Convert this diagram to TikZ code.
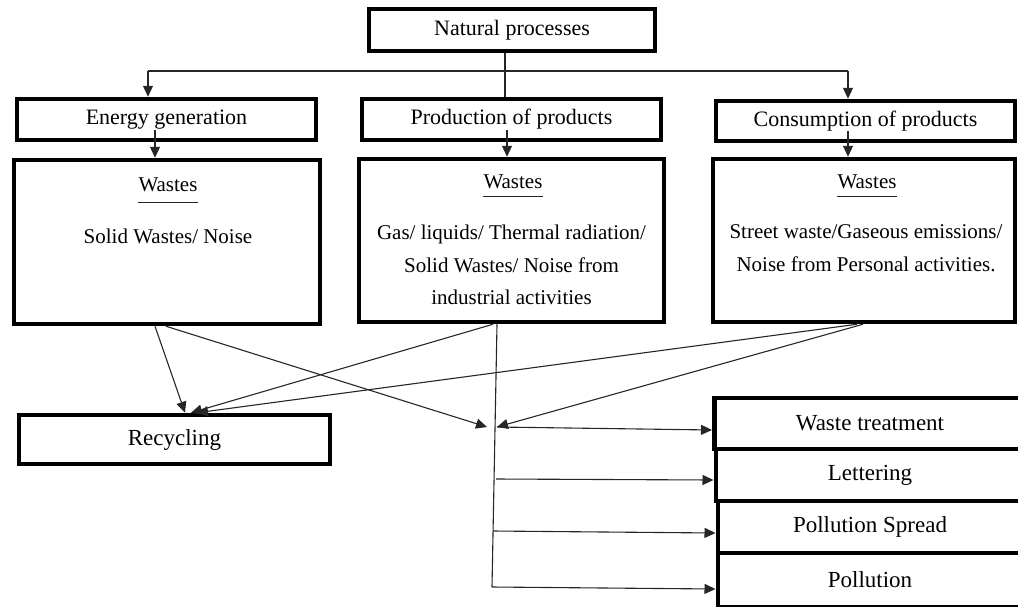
\documentclass[tikz,border=0pt]{standalone}
\usepackage{fontspec}
\setmainfont{Liberation Serif}
\usetikzlibrary{arrows.meta}
\begin{document}
\begin{tikzpicture}[x=1pt,y=-1pt,
  box/.style={draw=black, line width=4.5pt, inner sep=0pt,
    font=\fontsize{22}{26}\selectfont},
  bigbox/.style={box, font=\fontsize{23}{27}\selectfont},
  txt/.style={inner sep=0pt, align=center, font=\fontsize{21}{32.5}\selectfont},
  link/.style={draw=black!85, line width=1.1pt},
  arr/.style={link, -{Triangle[length=11pt,width=10pt]}},
  uline/.style={draw=black!85, line width=1pt}]
\clip (0,0) rectangle (1018,606);

% top level
\node[box, minimum width=286pt, minimum height=42pt] (np) at (512,30) {Natural processes};

% activities
\node[box, minimum width=299pt, minimum height=41pt] (eg) at (166.5,119.5) {Energy generation};
\node[box, minimum width=299pt, minimum height=41pt] (pp) at (511.5,119.5) {Production of products};
\node[box, minimum width=299pt, minimum height=40pt] (cp) at (865.5,121) {Consumption of products};

% waste boxes
\node[box, minimum width=306pt, minimum height=164pt] (ew) at (167,242) {};
\node[box, minimum width=305pt, minimum height=163pt] (pw) at (511.5,240.5) {};
\node[box, minimum width=302pt, minimum height=163pt] (cw) at (864,240.5) {};

\node[txt] (ewT) at (168,185) {Wastes};
\node[txt] (ewL) at (168,236) {Solid Wastes/ Noise};
\node[txt] (pwT) at (513,182) {Wastes};
\node[txt] (pwL) at (511.5,265) {Gas/ liquids/ Thermal radiation/\\Solid Wastes/ Noise from\\industrial activities};
\node[txt] (cwT) at (867,182) {Wastes};
\node[txt] (cwL) at (866,248) {Street waste/Gaseous emissions/\\Noise from Personal activities.};

\draw[uline] ([yshift=-10pt]ewT.south west) -- ([yshift=-10pt]ewT.south east);
\draw[uline] ([yshift=-7pt]pwT.south west) -- ([yshift=-7pt]pwT.south east);
\draw[uline] ([yshift=-7pt]cwT.south west) -- ([yshift=-7pt]cwT.south east);

% outcomes
\node[bigbox, minimum width=311pt, minimum height=49pt] (rc) at (174.5,439.5) {Recycling};
\node[bigbox, minimum width=311.5pt, minimum height=50.75pt] (wt) at (870,423.6) {Waste treatment};
\node[bigbox, minimum width=308.5pt, minimum height=52pt] (lt) at (870,475) {Lettering};
\node[bigbox, minimum width=304.5pt, minimum height=52pt] (ps) at (870,527) {Pollution Spread};
\node[bigbox, minimum width=304.5pt, minimum height=54pt] (pl) at (870,580) {Pollution};

% branching from the natural processes
\coordinate (jn) at (505,71);
\coordinate (jL) at (148,71);
\coordinate (jR) at (848,71);
\draw[link] (np.south -| jn) -- (pp.north -| jn);
\draw[link] (jL) -- (jR);
\draw[arr] (jL) -- (jL |- eg.north);
\draw[arr] (jR) -- (jR |- cp.north);

% activities to their wastes
\coordinate (egOut) at (155,130);
\coordinate (ppOut) at (507,130);
\coordinate (cpOut) at (848,131);
\draw[arr] (egOut) -- (egOut |- ew.north);
\draw[arr] (ppOut) -- (ppOut |- pw.north);
\draw[arr] (cpOut) -- (cpOut |- cw.north);

% collecting point
\coordinate (hubA) at (487,427);
\coordinate (hubB) at (497,427);
\coordinate (h2) at (496,479);
\coordinate (h3) at (493,531);
\coordinate (h4) at (492,587);

% wastes to recycling and to the collecting point
\draw[arr] ([xshift=-12pt]ew.south) -- ([xshift=10.5pt]rc.north);
\draw[arr] ([xshift=-1pt]ew.south) -- (hubA);
\draw[arr] ([xshift=-18.5pt]pw.south) -- ([xshift=16.5pt]rc.north);
\draw[link] ([xshift=-14.5pt]pw.south) -- (h4);
\draw[arr] ([xshift=-7pt]cw.south) -- ([xshift=22.5pt]rc.north);
\draw[arr] ([xshift=-1pt]cw.south) -- (hubB);

% collecting point to the outcomes
\draw[arr] (hubB) -- ([yshift=-6.4pt]wt.west);
\draw[arr] (h2) -- ([yshift=-5pt]lt.west);
\draw[arr] (h3) -- ([yshift=-6pt]ps.west);
\draw[arr] (h4) -- ([yshift=-9pt]pl.west);
\end{tikzpicture}
\end{document}
